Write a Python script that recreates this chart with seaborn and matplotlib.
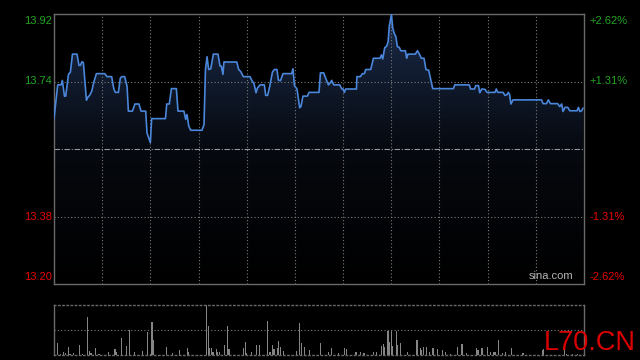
import numpy as np
import matplotlib
matplotlib.use("Agg")
import matplotlib.pyplot as plt
import matplotlib.transforms as mtransforms
from matplotlib.colors import LinearSegmentedColormap
import seaborn as sns

# ---------------- data ----------------
minutes = [0, 2.3, 4.4, 5.2, 6.5, 7.3, 9.0, 10.2, 11.5, 14.3,
           15.6, 16.4, 17.4, 18.3, 20.2, 21.2, 22.2, 23.5, 24.7, 26.4,
           31.6, 33.0, 35.9, 37.2, 38.2, 40.1, 41.3, 42.2, 44.0, 45.5,
           46.3, 48.8, 50.4, 52.9, 54.2, 57.1, 57.9, 60.0, 60.8, 69.4,
           70.2, 71.8, 73.1, 76.2, 77.2, 80.9, 82.0, 82.8, 83.9, 85.1,
           92.1, 93.4, 94.3, 95.3, 96.3, 97.6, 99.2, 102.1, 103.4, 104.2,
           105.2, 105.8, 113.8, 115.0, 116.2, 117.9, 122.0, 123.3, 124.5, 125.8,
           126.6, 128.3, 131.0, 131.8, 133.0, 134.3, 136.0, 137.2, 138.8, 139.7,
           141.0, 142.6, 148.0, 148.8, 149.7, 151.3, 153.0, 153.8, 155.0, 157.8,
           158.8, 165.0, 165.9, 167.9, 169.6, 170.9, 172.1, 172.9, 174.2, 177.9,
           179.2, 180.0, 180.8, 181.6, 188.3, 188.6, 190.8, 192.0, 193.3, 194.1,
           197.2, 198.9, 203.0, 203.9, 204.7, 205.9, 207.1, 208.0, 208.8, 210.1,
           210.9, 211.7, 212.9, 213.8, 215.0, 215.9, 218.8, 219.6, 220.4, 225.0,
           226.3, 227.5, 228.7, 230.4, 231.6, 233.3, 234.1, 235.8, 248.7, 249.5,
           258.6, 259.4, 261.8, 262.6, 264.3, 265.1, 266.3, 268.4, 269.6, 274.6,
           275.4, 276.3, 279.6, 280.8, 282.1, 282.9, 283.7, 284.5, 285.8, 303.6,
           304.5, 306.6, 307.8, 309.1, 313.6, 314.9, 316.1, 316.9, 318.2, 319.9,
           321.1, 325.7, 326.5, 327.4, 328.6, 329.4]

prices = [13.641, 13.731, 13.731, 13.743, 13.701, 13.701, 13.759, 13.765, 13.813, 13.813,
          13.783, 13.783, 13.793, 13.790, 13.690, 13.699, 13.703, 13.714, 13.737, 13.761,
          13.761, 13.753, 13.753, 13.721, 13.711, 13.711, 13.749, 13.753, 13.753, 13.727,
          13.661, 13.661, 13.680, 13.680, 13.661, 13.661, 13.603, 13.577, 13.641, 13.641,
          13.680, 13.680, 13.721, 13.721, 13.661, 13.661, 13.639, 13.652, 13.621, 13.610,
          13.610, 13.625, 13.772, 13.806, 13.772, 13.774, 13.813, 13.813, 13.781, 13.781,
          13.759, 13.792, 13.792, 13.772, 13.767, 13.753, 13.753, 13.742, 13.735, 13.710,
          13.722, 13.731, 13.731, 13.703, 13.703, 13.727, 13.765, 13.772, 13.772, 13.744,
          13.742, 13.761, 13.761, 13.774, 13.729, 13.720, 13.670, 13.674, 13.701, 13.701,
          13.711, 13.711, 13.763, 13.763, 13.744, 13.731, 13.737, 13.743, 13.731, 13.731,
          13.720, 13.720, 13.711, 13.720, 13.720, 13.753, 13.753, 13.761, 13.761, 13.772,
          13.772, 13.802, 13.802, 13.811, 13.800, 13.830, 13.834, 13.845, 13.888, 13.919,
          13.883, 13.870, 13.859, 13.833, 13.831, 13.822, 13.822, 13.802, 13.813, 13.813,
          13.822, 13.813, 13.802, 13.802, 13.772, 13.770, 13.754, 13.721, 13.721, 13.731,
          13.731, 13.720, 13.720, 13.729, 13.729, 13.710, 13.720, 13.719, 13.711, 13.711,
          13.720, 13.711, 13.711, 13.703, 13.705, 13.711, 13.705, 13.680, 13.691, 13.691,
          13.681, 13.681, 13.691, 13.681, 13.681, 13.673, 13.680, 13.660, 13.671, 13.671,
          13.662, 13.662, 13.671, 13.660, 13.662, 13.669]

vol_minutes = [0, 2, 4, 6, 7, 9, 10, 12, 16, 18,
               21, 22, 23, 26, 28, 34, 38, 39, 42, 45,
               47, 50, 55, 58, 60, 61, 62, 70, 74, 78,
               83, 84, 95, 96, 97, 98, 99, 101, 102, 103,
               106, 108, 109, 118, 119, 120, 123, 126, 128, 133,
               134, 135, 136, 137, 139, 140, 141, 143, 151, 153,
               154, 156, 159, 166, 171, 173, 177, 181, 182, 188,
               191, 193, 199, 201, 204, 205, 206, 208, 209, 210,
               211, 213, 214, 216, 220, 226, 228, 229, 230, 232,
               234, 236, 239, 242, 244, 247, 251, 254, 257, 263,
               264, 266, 267, 270, 272, 274, 275, 277, 279, 281,
               285, 292, 304, 305, 318, 319, 323, 326]

vol_values = [80, 233, 13, 53, 40, 160, 27, 33, 200, 13,
              753, 80, 33, 140, 13, 53, 120, 53, 340, 180,
              507, 53, 80, 460, 27, 660, 300, 160, 33, 100,
              140, 53, 1000, 580, 133, 133, 67, 113, 53, 67,
              200, 580, 120, 147, 260, 33, 53, 200, 200, 680,
              53, 53, 200, 120, 147, 280, 160, 80, 80, 640,
              233, 160, 100, 233, 53, 133, 33, 133, 113, 67,
              53, 33, 67, 53, 187, 213, 153, 480, 267, 480,
              187, 480, 200, 233, 67, 293, 133, 100, 153, 153,
              67, 133, 113, 100, 53, 27, 160, 213, 33, 133,
              100, 133, 133, 153, 67, 67, 53, 300, 33, 53,
              133, 33, 100, 120, 100, 27, 20, 20]

left_ticks = [13.92, 13.74, 13.38, 13.20]
left_labels = ["13.92", "13.74", "13.38", "13.20"]
right_labels = ["+2.62%", "+1.31%", "-1.31%", "-2.62%"]
label_colors = ["#22a522", "#22a522", "#e80000", "#e80000"]
prev_close = 13.56
session_minutes = 330
vgrid_minutes = [30, 60, 90, 120, 150, 180, 210, 240, 270, 300]

# ---------------- style ----------------
sns.set_theme(style="dark", rc={"axes.facecolor": "black", "figure.facecolor": "black",
                                "savefig.facecolor": "black"})
plt.rcParams['font.family'] = ['Liberation Sans', 'DejaVu Sans']

W, H = 640, 360
fig = plt.figure(figsize=(6.4, 3.6), dpi=100, facecolor='black')
ax = fig.add_axes([54 / W, 76 / H, 530 / W, 270 / H])
axv = fig.add_axes([54 / W, 5 / H, 530 / W, 50 / H])

grid_col = '#7a7a7a'
spine_col = '#6a6a6a'
dot = (0, (1, 2))

# gradient fill under the price line
cmap = LinearSegmentedColormap.from_list('g', ['#000000', '#06090f', '#1b2b4a'])
grad = np.linspace(1, 0, 256).reshape(-1, 1)
im = ax.imshow(grad, extent=[0, session_minutes, left_ticks[-1], left_ticks[0]],
               aspect='auto', cmap=cmap, origin='upper', vmin=0, vmax=1, zorder=1)
poly = ax.fill_between(minutes, prices, left_ticks[-1], color='none', linewidth=0)
im.set_clip_path(poly.get_paths()[0], transform=ax.transData)

# grid
for m in vgrid_minutes:
    ax.axvline(m, color=grid_col, lw=0.8, ls=dot, zorder=2)
for v in (left_ticks[1], left_ticks[2]):
    ax.axhline(v, color=grid_col, lw=0.8, ls=dot, zorder=2)
ax.axhline(prev_close, color='#8f98a4', lw=0.8, ls=(0, (5, 1.5, 1, 1.5)), zorder=2)

sns.lineplot(x=minutes, y=prices, ax=ax, color='#4a86da', linewidth=1.2,
             estimator=None, sort=False, zorder=3)

ax.set_xlim(0, session_minutes)
ax.set_ylim(left_ticks[-1], left_ticks[0])
ax.set_xticks([]); ax.set_yticks([])
ax.set_xlabel(''); ax.set_ylabel('')
for s in ax.spines.values():
    s.set_visible(True); s.set_color(spine_col); s.set_linewidth(1.0)

tl = mtransforms.blended_transform_factory(ax.transAxes, ax.transData)
vas = ['top', 'center', 'center', 'bottom']
for val, ll, rl, c, va in zip(left_ticks, left_labels, right_labels, label_colors, vas):
    dy = -0.006 if va == 'top' else (0.004 if va == 'bottom' else 0)
    ax.text(-0.004, val + dy, ll, transform=tl, ha='right', va=va, color=c, fontsize=8)
    ax.text(1.011, val + dy, rl, transform=tl, ha='left', va=va, color=c, fontsize=8)

ax.text(0.979, 0.01, 'sina.com', transform=ax.transAxes, ha='right', va='bottom',
        color='#b4b4b4', fontsize=8, zorder=4)

# volume panel
sns.barplot(x=vol_minutes, y=vol_values, ax=axv, native_scale=True, color='#858585',
            saturation=1, width=0.7, linewidth=0)
for p in axv.patches:
    p.set_antialiased(False)
axv.axhline(500, color=grid_col, lw=0.8, ls=dot)
axv.set_xlim(0, session_minutes)
axv.set_ylim(0, 1000)
axv.set_xticks([]); axv.set_yticks([])
axv.set_xlabel(''); axv.set_ylabel('')
for k, s in axv.spines.items():
    s.set_visible(True); s.set_color(spine_col); s.set_linewidth(1.0)
axv.spines['top'].set_linestyle(dot)
axv.spines['bottom'].set_linestyle(dot)

fig.text(544 / W, 10 / H, 'L70.CN', color='#dd0000', fontsize=19.5,
         ha='left', va='baseline')

fig.savefig('out.png', dpi=100, facecolor='black')
